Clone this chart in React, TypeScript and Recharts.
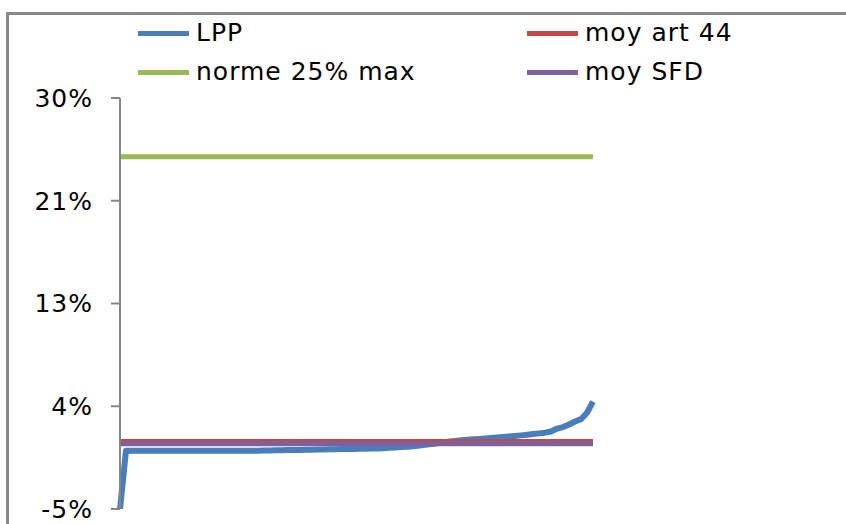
import React from 'react';
import { LineChart, Line, XAxis, YAxis, Legend } from 'recharts';

const categories = [
  1, 2, 3, 4, 5, 6, 7, 8, 9, 10, 11, 12, 13, 14, 15, 16, 17, 18, 19, 20,
  21, 22, 23, 24, 25, 26, 27, 28, 29, 30, 31, 32, 33, 34, 35, 36, 37, 38, 39, 40,
  41, 42, 43, 44, 45, 46, 47, 48, 49, 50, 51, 52, 53, 54, 55, 56, 57, 58, 59, 60,
  61, 62, 63, 64, 65, 66, 67, 68, 69, 70, 71, 72, 73, 74, 75, 76, 77, 78, 79, 80,
];

// LPP values in percent
const lppValues = [
  -5, -0.03, -0.03, -0.03, -0.03, -0.03, -0.03, -0.03, -0.03, -0.03,
  -0.03, -0.03, -0.03, -0.03, -0.03, -0.03, -0.03, -0.03, -0.03, -0.03,
  -0.03, -0.03, -0.03, -0.03, -0.02, -0.01, 0, 0.01, 0.02, 0.02,
  0.03, 0.04, 0.05, 0.06, 0.07, 0.08, 0.09, 0.1, 0.11, 0.12,
  0.13, 0.14, 0.15, 0.16, 0.18, 0.21, 0.24, 0.27, 0.31, 0.35,
  0.4, 0.46, 0.53, 0.6, 0.67, 0.74, 0.8, 0.85, 0.89, 0.93,
  0.97, 1.01, 1.05, 1.09, 1.13, 1.17, 1.22, 1.27, 1.33, 1.38,
  1.44, 1.5, 1.6, 1.85, 1.98, 2.2, 2.45, 2.65, 3.2, 4.15,
];

const NORME_MAX = 25;
const MOY_ART_44 = 0.75;
const MOY_SFD = 0.55;

const yTicks = [-5, 3.75, 12.5, 21.25, 30];

const seriesInfo = [
  { key: 'lpp', name: 'LPP', color: '#4A7EBB' },
  { key: 'art44', name: 'moy art 44', color: '#BE4B48' },
  { key: 'norme', name: 'norme 25% max', color: '#98B954' },
  { key: 'sfd', name: 'moy SFD', color: '#7D60A0' },
];

const data = categories.map((c, i) => ({
  cat: c,
  lpp: lppValues[i],
  art44: MOY_ART_44,
  norme: NORME_MAX,
  sfd: MOY_SFD,
}));

const FONT = '"DejaVu Sans", Verdana, sans-serif';

const legendPos = [
  { left: 138, top: 33 },
  { left: 527, top: 33 },
  { left: 138, top: 72 },
  { left: 527, top: 72 },
];

const LegendContent = () => (
  <div style={{ position: 'relative', width: 846, height: 100 }}>
    {seriesInfo.map((s, i) => (
      <div
        key={s.key}
        style={{
          position: 'absolute',
          left: legendPos[i].left,
          top: legendPos[i].top - 16,
          height: 32,
          display: 'flex',
          alignItems: 'center',
          whiteSpace: 'nowrap',
        }}
      >
        <div style={{ width: 51, height: 5, background: s.color }} />
        <span
          style={{
            marginLeft: 7,
            fontFamily: FONT,
            fontSize: 25,
            letterSpacing: 1,
            color: '#000',
            lineHeight: '32px',
          }}
        >
          {s.name}
        </span>
      </div>
    ))}
  </div>
);

export default function App() {
  return (
    <div
      style={{
        position: 'fixed',
        left: 0,
        top: 0,
        width: 846,
        height: 524,
        overflow: 'hidden',
        background: '#fff',
      }}
    >
      <div
        style={{
          position: 'absolute',
          left: 6,
          top: 12,
          width: 950,
          height: 650,
          border: '3px solid #888888',
        }}
      />
      <div style={{ position: 'absolute', left: 0, top: 0 }}>
        <LineChart
          width={846}
          height={524}
          data={data}
          margin={{ top: 98, right: 253, bottom: 15, left: 0 }}
        >
          <XAxis dataKey="cat" hide />
          <YAxis
            width={120}
            domain={[-5, 30]}
            ticks={yTicks}
            interval={0}
            allowDataOverflow
            axisLine={{ stroke: '#868686', strokeWidth: 2 }}
            tickLine={{ stroke: '#868686', strokeWidth: 2 }}
            tickSize={9}
            tickMargin={18}
            tick={{ fill: '#000', fontSize: 25, fontFamily: FONT, letterSpacing: 1 }}
            tickFormatter={(v: number) => `${Math.round(v)}%`}
          />
          <Legend
            layout="horizontal"
            verticalAlign="middle"
            align="center"
            wrapperStyle={{ left: 0, top: 0, width: 846, height: 100 }}
            content={() => <LegendContent />}
          />
          <Line
            dataKey="lpp"
            name="LPP"
            stroke="#4A7EBB"
            strokeWidth={6}
            dot={false}
            strokeLinejoin="round"
            isAnimationActive={false}
          />
          <Line
            dataKey="art44"
            name="moy art 44"
            stroke="#BE4B48"
            strokeWidth={5}
            dot={false}
            isAnimationActive={false}
          />
          <Line
            dataKey="norme"
            name="norme 25% max"
            stroke="#98B954"
            strokeWidth={5}
            dot={false}
            isAnimationActive={false}
          />
          <Line
            dataKey="sfd"
            name="moy SFD"
            stroke="#7D60A0"
            strokeWidth={5}
            dot={false}
            isAnimationActive={false}
          />
        </LineChart>
      </div>
    </div>
  );
}
